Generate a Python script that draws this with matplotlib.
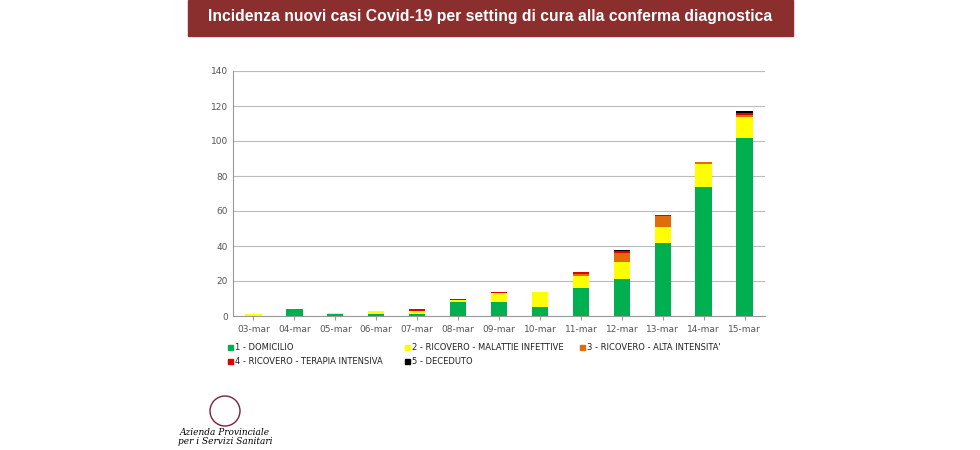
import numpy as np
import matplotlib.pyplot as plt
from matplotlib.patches import Rectangle, Ellipse

days = ['03-mar', '04-mar', '05-mar', '06-mar', '07-mar', '08-mar', '09-mar',
        '10-mar', '11-mar', '12-mar', '13-mar', '14-mar', '15-mar']
domicilio = [0, 4, 1, 1, 1, 8, 8, 5, 16, 21, 42, 74, 102]
malattie = [1, 0, 1, 2, 2, 1, 5, 9, 7, 10, 9, 13, 12]
alta = [0, 0, 0, 0, 0, 0, 0, 0, 1, 5, 6, 1, 1]
terapia = [0, 0, 0, 0, 1, 1, 1, 0, 1, 1, 1, 0, 1]
deceduto = [0, 0, 0, 0, 0, 0, 0, 0, 0, 1, 0, 0, 1]

series = [domicilio, malattie, alta, terapia, deceduto]
names = ['1 - DOMICILIO', '2 - RICOVERO - MALATTIE INFETTIVE', "3 - RICOVERO - ALTA INTENSITA'",
         '4 - RICOVERO - TERAPIA INTENSIVA', '5 - DECEDUTO']
colors = ['#00b050', '#ffff00', '#e36c0a', '#e00000', '#000000']

fig = plt.figure(figsize=(9.8, 4.5), dpi=100)

# header bar
fig.patches.append(Rectangle((188/980, 1-36/450), 605/980, 36/450, transform=fig.transFigure,
                             color='#8b2e2e', zorder=0))
fig.text(490/980, 1-17/450, 'Incidenza nuovi casi Covid-19 per setting di cura alla conferma diagnostica',
         ha='center', va='center', color='white', fontsize=11.3, fontweight='bold',
         family='Liberation Sans')

ax = fig.add_axes([233/980, 1-316/450, 532/980, 245/450])
x = np.arange(len(days))
bottom = np.zeros(len(days))
for vals, c in zip(series, colors):
    ax.bar(x, vals, 0.4, bottom=bottom, color=c, zorder=3)
    bottom += np.array(vals)

ax.set_ylim(0, 140)
ax.set_yticks(range(0, 141, 20))
ax.set_xlim(-0.5, len(days) - 0.5)
ax.set_xticks(x)
ax.set_xticklabels(days)
ax.tick_params(labelsize=6.5, colors='#555555', length=0)
ax.tick_params(axis='x', length=3, color='#999999')
ax.grid(axis='y', color='#bbbbbb', lw=0.8, zorder=0)
for s in ['top', 'right']:
    ax.spines[s].set_visible(False)
for s in ['left', 'bottom']:
    ax.spines[s].set_color('#999999')

# legend
pos = [(228, 347), (405, 347), (580, 347), (228, 361), (405, 361)]
for (px, py), n, c in zip(pos, names, colors):
    fig.patches.append(Rectangle((px/980, 1-(py+3)/450), 5/980, 5/450,
                                 transform=fig.transFigure, color=c))
    fig.text((px+7)/980, 1-py/450, n, fontsize=6, va='center', color='#222222')

# logo
fig.patches.append(Ellipse((225/980, 1-411/450), 30/980, 30/450, transform=fig.transFigure,
                           fill=False, ec='#7a2040', lw=1))
fig.text(225/980, 1-437/450, 'Azienda Provinciale\nper i Servizi Sanitari', ha='center', va='center',
         fontsize=6.5, style='italic', family='DejaVu Serif', linespacing=0.9)

fig.savefig('out.png', dpi=100)
